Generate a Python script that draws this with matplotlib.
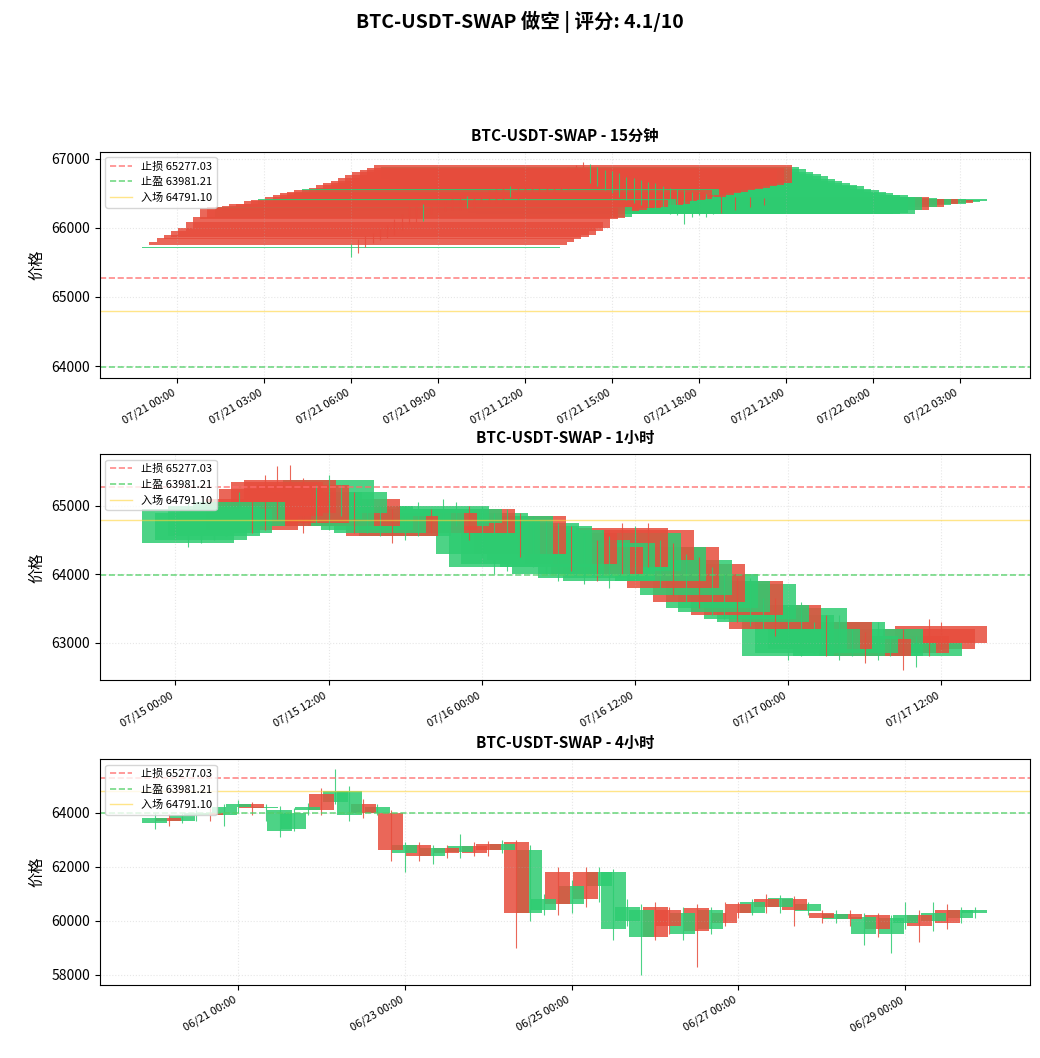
import matplotlib
matplotlib.use('Agg')
import matplotlib.pyplot as plt
import matplotlib.dates as mdates
from matplotlib.ticker import MultipleLocator
import pandas as pd

plt.rcParams['font.family'] = ['Noto Sans CJK SC', 'DejaVu Sans']
plt.rcParams['axes.unicode_minus'] = False

# Niveles de la operación
stop_loss = 65277.03
take_profit = 63981.21
entry = 64791.10

# 15 minutos
open_15m = [65700, 65800, 65850, 65900, 65950, 66000, 66080, 66150,
            66280, 66300, 66150, 66320, 66350, 66340, 66380, 66400, 66330, 66450, 66480, 66500,
            66520, 66540, 66480, 66580, 66620, 66650, 66680, 66720, 66760, 66800, 66840, 66870, 66900,
            66700, 66650, 66600, 66550, 66500, 66450, 66400, 66380, 66350, 66300, 66280, 66250, 66220,
            66200, 66200, 66220, 66200, 66250, 66440, 66300, 66420, 66330, 66410, 66350, 66400, 66370, 66380]
close_15m = [65720, 65750, 65790, 65840, 65870, 65900, 65950, 66000,
             66120, 66140, 66300, 66240, 66260, 66280, 66290, 66300, 66420, 66330, 66350, 66380,
             66400, 66420, 66560, 66450, 66480, 66500, 66520, 66540, 66560, 66580, 66600, 66620, 66640,
             66880, 66850, 66800, 66780, 66750, 66700, 66680, 66650, 66620, 66600, 66560, 66540, 66520,
             66500, 66480, 66470, 66450, 66440, 66260, 66430, 66300, 66420, 66340, 66410, 66360, 66400, 66410]
high_15m = [65760, 65830, 65880, 65930, 65980, 66040, 66120, 66200,
            66320, 66340, 66340, 66360, 66400, 66380, 66420, 66450, 66460, 66500, 66520, 66550,
            66560, 66600, 66610, 66620, 66660, 66700, 66720, 66760, 66800, 66840, 66880, 66900, 66950,
            66920, 66880, 66840, 66820, 66790, 66740, 66720, 66690, 66660, 66640, 66600, 66580, 66560,
            66540, 66520, 66500, 66490, 66470, 66470, 66460, 66450, 66450, 66440, 66440, 66430, 66430, 66430]
low_15m = [65580, 65640, 65720, 65780, 65820, 65850, 65900, 65960,
           66050, 66080, 66100, 66200, 66220, 66240, 66250, 66260, 66290, 66290, 66310, 66340,
           66360, 66380, 66440, 66400, 66440, 66460, 66480, 66500, 66520, 66540, 66560, 66580, 66600,
           66650, 66600, 66550, 66500, 66450, 66400, 66360, 66330, 66300, 66250, 66230, 66200, 66180,
           66050, 66150, 66180, 66160, 66200, 66220, 66260, 66260, 66300, 66300, 66320, 66330, 66340, 66350]

# 1 hora
open_1h = [64450, 64500, 64550, 64600, 64700, 65100, 65250, 65350, 65370, 65300,
           64800, 64700, 64900, 65100, 64650, 64600, 64850, 64550, 64600, 64900,
           64700, 64750, 64950, 64300, 64100, 64150, 64850, 64200, 64100, 64000,
           64600, 63950, 64400, 63900, 64680, 64050, 64650, 63900, 64400, 63700,
           64150, 63500, 63450, 63900, 63350, 63300, 63550, 62800, 62850, 62900,
           63300, 62800, 62850, 63050, 62800, 62850, 63100, 62800, 63200, 63250]
close_1h = [64950, 64900, 65000, 64950, 65050, 64650, 64700, 64850, 64900, 64750,
            65200, 65370, 65200, 64700, 65000, 64900, 64550, 64900, 64950, 64650,
            65000, 64950, 64600, 64900, 64800, 64850, 64300, 64750, 64700, 64650,
            64150, 64500, 64000, 64450, 64100, 64600, 64200, 64400, 63800, 64200,
            63600, 64000, 63900, 63400, 63850, 63550, 63200, 63400, 63500, 63200,
            62900, 63300, 63100, 62800, 63200, 63000, 62850, 63000, 62900, 63000]
high_1h = [65050, 65000, 65100, 65050, 65200, 65250, 65450, 65580, 65600, 65400,
           65300, 65450, 65300, 65200, 65100, 65000, 64950, 65000, 65050, 64950,
           65100, 65050, 65000, 65000, 64900, 64950, 64900, 64850, 64800, 64750,
           64700, 64600, 64500, 64550, 64750, 64700, 64750, 64500, 64450, 64300,
           64250, 64100, 64000, 63950, 63950, 63650, 63650, 63500, 63600, 63300,
           63400, 63400, 63200, 63150, 63300, 63100, 63200, 63100, 63350, 63300]
low_1h = [64400, 64450, 64500, 64550, 64650, 64600, 64650, 64800, 64850, 64600,
          64750, 64650, 64850, 64600, 64600, 64550, 64450, 64500, 64550, 64600,
          64650, 64700, 64500, 64250, 64000, 64050, 64250, 64100, 64000, 63900,
          64050, 63850, 63900, 63800, 64000, 63950, 64100, 63800, 63700, 63600,
          63500, 63400, 63350, 63300, 63250, 63200, 63100, 62750, 62800, 62850,
          62800, 62750, 62800, 62700, 62750, 62800, 62600, 62650, 62800, 62900]

# 4 horas
open_4h = [63600, 63800, 63700, 63900, 64000, 63900,
           64200, 64300, 64150, 63300, 63400, 64100,
           64700, 64400, 63900, 64300, 64000, 64000,
           62500, 62800, 62400, 62700, 62550, 62750,
           62850, 62600, 62900, 60300, 60400, 61800,
           60600, 61800, 61300, 59700, 60000, 59400,
           60500, 60400, 59500, 60450, 59700, 60300,
           60600, 60300, 60800, 60500, 60800, 60350,
           60300, 60050, 60250, 59500, 60200, 59500,
           59900, 60200, 60000, 60400, 60100, 60300]
close_4h = [63800, 63700, 63900, 64000, 63900, 64200,
            64300, 64150, 64200, 64100, 64000, 64200,
            64100, 64800, 64800, 64000, 64200, 62600,
            62800, 62400, 62700, 62500, 62750, 62500,
            62600, 62850, 60300, 62600, 60800, 60600,
            61300, 60800, 61800, 61800, 60500, 60400,
            59400, 59800, 60300, 59600, 60400, 59900,
            60300, 60700, 60500, 60850, 60400, 60600,
            60100, 60250, 60050, 60150, 59700, 60100,
            60200, 59800, 60300, 59900, 60400, 60400]
high_4h = [64000, 63950, 64000, 64100, 64150, 64300,
           64450, 64400, 64300, 64250, 64150, 64350,
           64900, 65600, 65000, 64500, 64300, 64100,
           62900, 62900, 62800, 62800, 63200, 62900,
           62950, 63000, 63000, 62800, 61000, 62000,
           61500, 62000, 62000, 61900, 60800, 60600,
           60700, 60500, 60500, 60600, 60500, 60700,
           60700, 60800, 61000, 60950, 60900, 60700,
           60400, 60400, 60400, 60300, 60300, 60200,
           60700, 60400, 60700, 60600, 60500, 60500]
low_4h = [63400, 63500, 63600, 63700, 63700, 63500,
          64000, 63900, 63700, 63100, 63300, 63900,
          63900, 64300, 63700, 63800, 63900, 62200,
          61800, 62200, 62100, 62300, 62300, 62400,
          62400, 62500, 59000, 60000, 60200, 60200,
          60300, 60500, 60700, 59300, 59800, 58000,
          59300, 59500, 59300, 58300, 59500, 59800,
          60100, 60200, 60300, 60300, 59800, 60200,
          59900, 59900, 59800, 59100, 59400, 58800,
          59700, 59200, 59600, 59700, 59900, 60100]

panels = [
    ('15分钟', '2024-07-21 06:00', '15min', open_15m, close_15m, high_15m, low_15m, 0.6,
     mdates.HourLocator(byhour=range(0, 24, 3)), 1000),
    ('1小时', '2024-07-15 01:00', '1h', open_1h, close_1h, high_1h, low_1h, 0.3,
     mdates.HourLocator(byhour=[0, 12]), 1000),
    ('4小时', '2024-06-20 00:00', '4h', open_4h, close_4h, high_4h, low_4h, 0.3,
     mdates.DayLocator(bymonthday=[21, 23, 25, 27, 29]), 2000),
]

fig = plt.figure(figsize=(10.4, 10.58), dpi=100)
fig.suptitle('BTC-USDT-SWAP 做空 | 评分: 4.1/10', fontsize=14, fontweight='bold', y=0.99)

bottoms = [0.643, 0.357, 0.069]
for (name, start, freq, o, c, h, l, width, locator, ystep), bottom in zip(panels, bottoms):
    ax = fig.add_axes([0.096, bottom, 0.894, 0.2136])
    times = mdates.date2num(pd.date_range(start, periods=len(o), freq=freq).to_pydatetime())
    # la API devuelve las velas de la más reciente a la más antigua
    for i in reversed(range(len(o))):
        color = '#2ecc71' if c[i] >= o[i] else '#e74c3c'
        ax.vlines(times[i], l[i], h[i], color=color, linewidth=0.8, alpha=0.85)
        ax.bar(times[i], abs(c[i] - o[i]), width=width, bottom=min(o[i], c[i]),
               color=color, alpha=0.85, linewidth=0)
    ax.axhline(stop_loss, color='#ff6b6b', linestyle='--', linewidth=1.2, alpha=0.8,
               label=f'止损 {stop_loss:.2f}')
    ax.axhline(take_profit, color='#51cf66', linestyle='--', linewidth=1.2, alpha=0.8,
               label=f'止盈 {take_profit:.2f}')
    ax.axhline(entry, color='#ffd43b', linestyle='-', linewidth=1.0, alpha=0.6,
               label=f'入场 {entry:.2f}')
    ax.set_title(f'BTC-USDT-SWAP - {name}', fontsize=11, fontweight='bold', pad=8)
    ax.set_ylabel('价格', fontsize=11)
    ax.yaxis.set_major_locator(MultipleLocator(ystep))
    ax.tick_params(axis='y', labelsize=10)
    ax.grid(True, linestyle=':', alpha=0.3)
    ax.legend(loc='upper left', fontsize=8)
    ax.xaxis.set_major_locator(locator)
    ax.xaxis.set_major_formatter(mdates.DateFormatter('%m/%d %H:%M'))
    for lab in ax.get_xticklabels():
        lab.set_rotation(30)
        lab.set_ha('right')
        lab.set_fontsize(8)

fig.savefig('out.png', dpi=100)
